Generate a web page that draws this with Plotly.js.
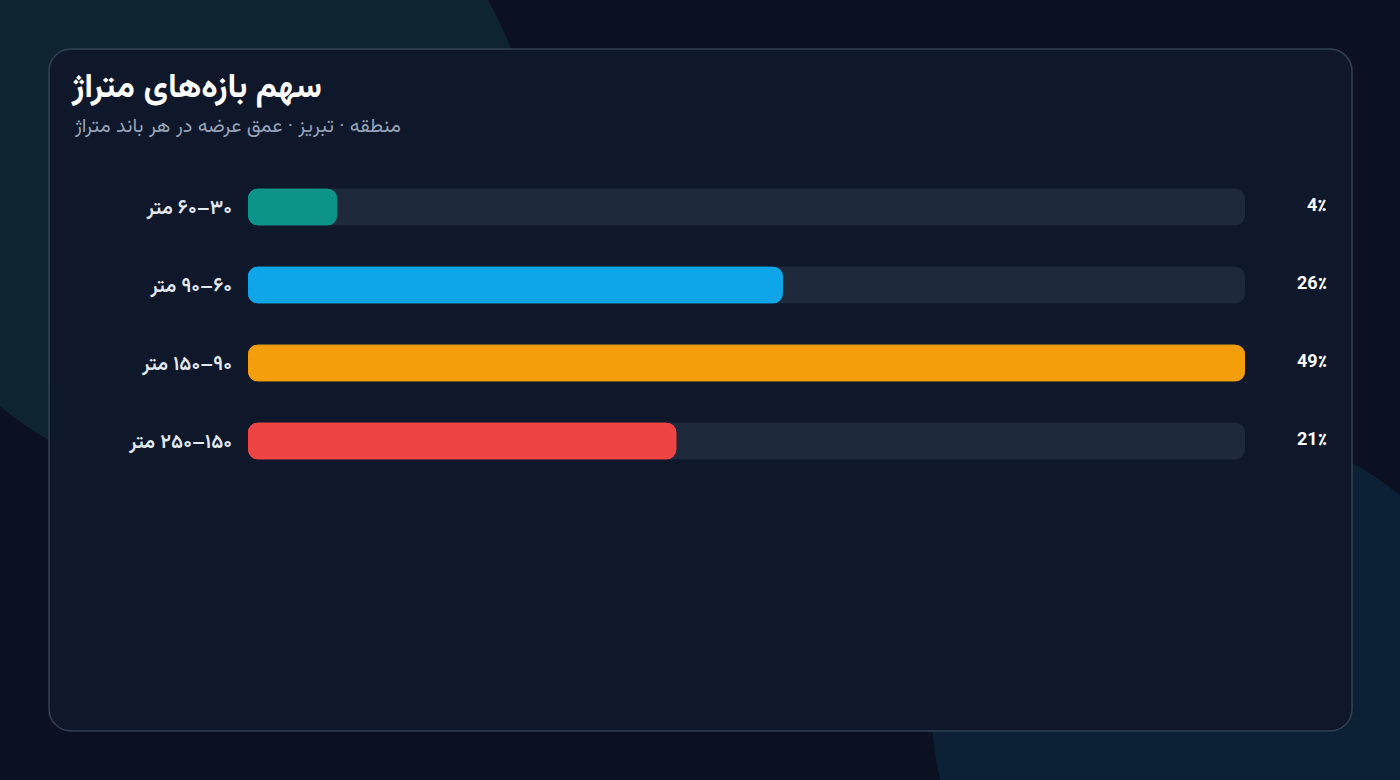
<!DOCTYPE html>
<html>
<head>
<meta charset="utf-8">
<script src="https://cdn.plot.ly/plotly-3.0.1.min.js"></script>
<style>
  html, body { margin: 0; padding: 0; background: #0b1120; overflow: hidden; }
  #chart { width: 1400px; height: 780px; }
</style>
</head>
<body>
<div id="chart"></div>
<script>
// ---- data ----
const categories = ['۳۰–۶۰ متر', '۶۰–۹۰ متر', '۹۰–۱۵۰ متر', '۱۵۰–۲۵۰ متر'];
const shares = [4.35, 26.1, 48.65, 20.9];
const barColors = ['#0d9488', '#0ea5e9', '#f59e0b', '#ef4444'];
const titleText = 'سهم بازه‌های متراژ';
const subtitleText = 'منطقه · تبریز · عمق عرضه در هر باند متراژ';

// ---- helpers ----
const W = 1400, H = 780;
const px = x => x / W;
const py = y => 1 - y / H;
const maxShare = Math.max(...shares);
const pctLabels = shares.map(v => Math.round(v) + '٪');
const tickText = categories.map(c => '\u200F' + c);

function roundedRectPath(x0, y0, x1, y1, r) {
  const k = 0.5523 * r;
  const P = (x, y) => px(x).toFixed(5) + ',' + py(y).toFixed(5);
  return 'M' + P(x0 + r, y0) +
    ' L' + P(x1 - r, y0) +
    ' C' + P(x1 - r + k, y0) + ' ' + P(x1, y0 + r - k) + ' ' + P(x1, y0 + r) +
    ' L' + P(x1, y1 - r) +
    ' C' + P(x1, y1 - r + k) + ' ' + P(x1 - r + k, y1) + ' ' + P(x1 - r, y1) +
    ' L' + P(x0 + r, y1) +
    ' C' + P(x0 + r - k, y1) + ' ' + P(x0, y1 - r + k) + ' ' + P(x0, y1 - r) +
    ' L' + P(x0, y0 + r) +
    ' C' + P(x0, y0 + r - k) + ' ' + P(x0 + r - k, y0) + ' ' + P(x0 + r, y0) + ' Z';
}

const barWidth = 0.47;
const radius = 10;
const common = {
  type: 'bar', orientation: 'h', y: categories, width: barWidth,
  hoverinfo: 'skip', showlegend: false
};

const traces = [
  Object.assign({}, common, { x: shares.map(() => maxShare), base: 0,
    marker: { color: '#1e293b', cornerradius: radius } }),
  Object.assign({}, common, { x: shares.map(() => -maxShare), base: shares.map(() => maxShare),
    marker: { color: '#1e293b', cornerradius: radius } }),
  Object.assign({}, common, { x: shares, base: 0,
    marker: { color: barColors, cornerradius: radius } }),
  Object.assign({}, common, { x: shares.map(v => -v), base: shares,
    marker: { color: barColors, cornerradius: radius } })
];

const font = "Vazirmatn, Inter, 'Noto Sans', sans-serif";

const layout = {
  width: W, height: H,
  margin: { l: 0, r: 0, t: 0, b: 0, pad: 0 },
  paper_bgcolor: '#0b1120',
  plot_bgcolor: 'rgba(0,0,0,0)',
  barmode: 'overlay',
  hovermode: false,
  font: { family: font, color: '#e2e8f0' },
  title: {
    text: titleText,
    xref: 'container', yref: 'container',
    x: px(72), xanchor: 'left',
    y: py(85), yanchor: 'middle',
    font: { family: font, size: 34, color: '#ffffff', weight: 700 }
  },
  xaxis: {
    domain: [px(248), px(1245)],
    range: [0, maxShare],
    visible: false, fixedrange: true
  },
  yaxis: {
    domain: [py(480), py(168)],
    type: 'category',
    autorange: 'reversed',
    showgrid: false, zeroline: false, showline: false,
    ticks: '',
    tickvals: categories,
    ticktext: tickText,
    ticklabelstandoff: 15,
    tickfont: { family: font, size: 20, color: '#e2e8f0', weight: 600 },
    fixedrange: true
  },
  shapes: [
    { type: 'circle', xref: 'paper', yref: 'paper', layer: 'below',
      x0: px(209 - 322), x1: px(209 + 322), y0: py(161 + 322), y1: py(161 - 322),
      fillcolor: '#0e2530', line: { width: 0 } },
    { type: 'circle', xref: 'paper', yref: 'paper', layer: 'below',
      x0: px(1216 - 284), x1: px(1216 + 284), y0: py(712 + 284), y1: py(712 - 284),
      fillcolor: '#0c2036', line: { width: 0 } },
    { type: 'path', xref: 'paper', yref: 'paper', layer: 'below',
      path: roundedRectPath(49, 49, 1352, 731, 22),
      fillcolor: '#0f172a', line: { color: '#334155', width: 1.5 } }
  ],
  annotations: [
    { xref: 'paper', yref: 'paper', x: px(72), y: py(127), xanchor: 'left', yanchor: 'middle',
      text: subtitleText, showarrow: false,
      font: { family: font, size: 20, color: '#94a3b8' } }
  ].concat(categories.map((c, i) => ({
    xref: 'paper', yref: 'y', x: px(1329), y: c, xanchor: 'right', yanchor: 'middle',
    text: pctLabels[i], showarrow: false,
    font: { family: font, size: 18, color: '#ffffff', weight: 700 }
  })))
};

Plotly.newPlot('chart', traces, layout, { displayModeBar: false, staticPlot: true });
</script>
</body>
</html>
